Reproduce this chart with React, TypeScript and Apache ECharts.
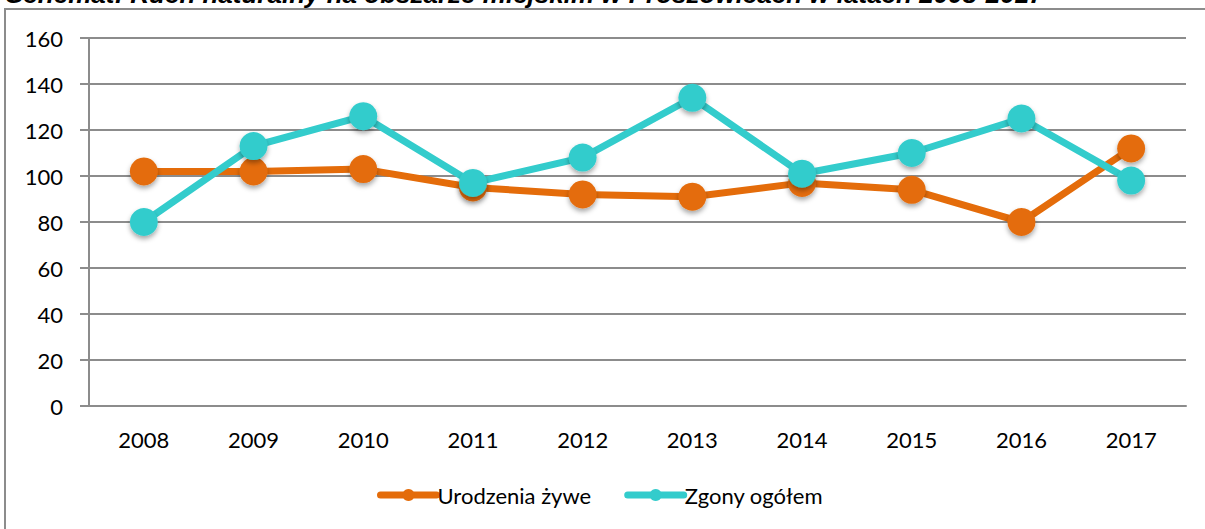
import React, { useEffect, useRef } from "react";
import * as echarts from "echarts";

const years = ["2008", "2009", "2010", "2011", "2012", "2013", "2014", "2015", "2016", "2017"];
const urodzenia = [102, 102, 103, 95, 92, 91, 97, 94, 80, 112];
const zgony = [80, 113, 126, 97, 108, 134, 101, 110, 125, 98];
const seriesNames = ["Urodzenia żywe", "Zgony ogółem"];
const titleText = "Schemat: Ruch naturalny na obszarze miejskim w Proszowicach w latach 2008-2017";

const ORANGE = "#E46C0A";
const CYAN = "#33CCCC";
const GRID = "#8c8c8c";
const FONT = "Lato";

export default function App() {
  const ref = useRef<HTMLDivElement>(null);
  useEffect(() => {
    if (!ref.current) return;
    const chart = echarts.init(ref.current, undefined, { renderer: "svg" });
    const mkSeries = (name: string, data: number[], color: string) => ({
      name,
      type: "line",
      data,
      symbol: "circle",
      symbolSize: 28,
      lineStyle: { color, width: 7 },
      itemStyle: {
        color,
        shadowBlur: 5,
        shadowColor: "rgba(0,0,0,0.35)",
        shadowOffsetY: 3,
      },
      emphasis: { disabled: true },
    });
    chart.setOption({
      animation: false,
      backgroundColor: "#ffffff",
      title: {
        text: titleText,
        left: 6,
        top: -19,
        padding: 0,
        textStyle: {
          fontFamily: "Liberation Sans",
          fontWeight: "bold",
          fontStyle: "italic",
          fontSize: 26,
          color: "#000",
        },
      },
      graphic: [
        {
          type: "rect",
          shape: { x: 5, y: 9, width: 1300, height: 700 },
          style: { fill: "none", stroke: GRID, lineWidth: 2 },
          silent: true,
          z: -1,
        },
      ],
      legend: {
        bottom: 18,
        left: 372,
        itemWidth: 56,
        itemHeight: 15,
        itemGap: 33,
        lineStyle: { width: 7, cap: "round" },
        itemStyle: { shadowBlur: 0, shadowOffsetY: 0 },
        textStyle: { fontFamily: FONT, fontSize: 22, color: "#000", padding: [0, 0, 0, -4] },
        data: seriesNames,
      },
      grid: { left: 89, right: 19, top: 38, bottom: 123, containLabel: false },
      xAxis: {
        type: "category",
        data: years,
        boundaryGap: true,
        axisLine: { show: true, lineStyle: { color: GRID, width: 2 } },
        axisTick: { show: false },
        axisLabel: { fontFamily: FONT, fontSize: 22, color: "#000", margin: 22 },
        splitLine: { show: false },
      },
      yAxis: {
        type: "value",
        min: 0,
        max: 160,
        interval: 20,
        axisLine: { show: true, lineStyle: { color: GRID, width: 2 } },
        axisTick: { show: true, length: 9, lineStyle: { color: GRID, width: 2 } },
        axisLabel: { fontFamily: FONT, fontSize: 22, color: "#000", margin: 26 },
        splitLine: { show: true, lineStyle: { color: GRID, width: 2 } },
      },
      series: [mkSeries(seriesNames[0], urodzenia, ORANGE), mkSeries(seriesNames[1], zgony, CYAN)],
    });
    return () => chart.dispose();
  }, []);
  return (
    <div
      ref={ref}
      style={{ position: "fixed", left: 0, top: 0, width: 1205, height: 529, background: "#fff" }}
    />
  );
}
